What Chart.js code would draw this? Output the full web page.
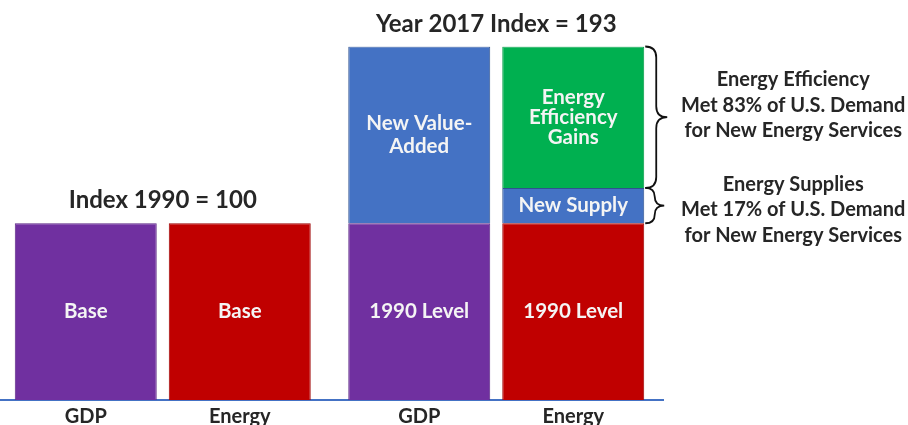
<!DOCTYPE html>
<html lang="en">
<head>
<meta charset="UTF-8">
<title>GDP and Energy, 1990 vs 2017</title>
<script src="https://cdn.jsdelivr.net/npm/chart.js"></script>
<style>
  html, body { margin: 0; padding: 0; background: #fff; overflow: hidden; }
  #wrap { width: 912px; height: 425px; position: relative; margin-left: -4px; }
</style>
</head>
<body>
<div id="wrap"><canvas id="myChart"></canvas></div>
<script>
// groups and the bars inside each group
const years = ['1990', '2017'];
const groupTitles = ['Index 1990 = 100', 'Year 2017 Index = 193'];
const barNames = ['GDP', 'Energy'];

// index values (1990 = 100)
const gdpBase = [100, 100];
const gdpNewValue = [null, 100];
const energyBase = [100, 100];
const energyNewSupply = [null, 20];
const energyEfficiency = [null, 80];

// text written inside the segments
const baseLabels = ['Base', '1990 Level'];
const newValueLabels = [null, ['New Value-', 'Added']];
const newSupplyLabels = [null, 'New Supply'];
const efficiencyLabels = [null, ['Energy', 'Efficiency', 'Gains']];

// notes to the right of the braces
const efficiencyNote = ['Energy Efficiency', 'Met 83% of U.S. Demand', 'for New Energy Services'];
const supplyNote = ['Energy Supplies', 'Met 17% of U.S. Demand', 'for New Energy Services'];

const FONT = 'Lato, "Open Sans", sans-serif';
const DARK = '#262626';

function drawBrace(ctx, x, y1, y2, w) {
    const ym = (y1 + y2) / 2;
    const r = Math.min(w * 0.5, (y2 - y1) / 4);
    const xm = x + w / 2;
    ctx.beginPath();
    ctx.moveTo(x, y1);
    ctx.quadraticCurveTo(xm, y1, xm, y1 + r);
    ctx.lineTo(xm, ym - r);
    ctx.quadraticCurveTo(xm, ym, x + w, ym);
    ctx.quadraticCurveTo(xm, ym, xm, ym + r);
    ctx.lineTo(xm, y2 - r);
    ctx.quadraticCurveTo(xm, y2, x, y2);
    ctx.stroke();
}

const labelsPlugin = {
    id: 'slideLabels',
    afterDatasetsDraw(chart) {
        const ctx = chart.ctx;
        const xScale = chart.scales.x;
        ctx.save();
        ctx.textAlign = 'center';

        // text inside bars
        ctx.fillStyle = '#f4f4f4';
        ctx.textBaseline = 'middle';
        ctx.font = 'bold 20.5px ' + FONT;
        chart.data.datasets.forEach((ds, di) => {
            chart.getDatasetMeta(di).data.forEach((el, i) => {
                const txt = ds.inLabels[i];
                if (!txt || ds.data[i] == null) return;
                const lines = Array.isArray(txt) ? txt : [txt];
                const lh = lines.length > 2 ? 20 : 23;
                const cy = (el.y + el.base) / 2 - (lines.length - 1) * lh / 2;
                lines.forEach((l, k) => ctx.fillText(l, el.x, cy + k * lh));
            });
        });

        // group titles above the tallest bar of each group
        ctx.fillStyle = DARK;
        ctx.textBaseline = 'alphabetic';
        ctx.font = 'bold 24px ' + FONT;
        years.forEach((y, i) => {
            let top = Infinity;
            chart.data.datasets.forEach((ds, di) => {
                const el = chart.getDatasetMeta(di).data[i];
                if (ds.data[i] != null) top = Math.min(top, el.y);
            });
            ctx.fillText(groupTitles[i], xScale.getPixelForValue(i), top - 15);
        });

        // bar names under the axis
        ctx.font = 'bold 20px ' + FONT;
        [0, 1].forEach(di => {
            chart.getDatasetMeta(di).data.forEach(el => {
                ctx.fillText(barNames[di], el.x, chart.chartArea.bottom + 23);
            });
        });

        // braces and notes for the 2017 energy bar
        ctx.strokeStyle = '#111';
        ctx.lineWidth = 1.8;
        const eff = chart.getDatasetMeta(4).data[1];
        const sup = chart.getDatasetMeta(3).data[1];
        const bx = eff.x + eff.width / 2 + 1;
        drawBrace(ctx, bx, eff.y, eff.base, 22);
        drawBrace(ctx, bx, sup.y, sup.base, 19);

        ctx.font = 'bold 20px ' + FONT;
        const noteX = bx + 148;
        const mid1 = (eff.y + eff.base) / 2;
        const mid2 = (sup.y + sup.base) / 2;
        efficiencyNote.forEach((l, k) => ctx.fillText(l, noteX, mid1 - 31 + k * 25.5));
        supplyNote.forEach((l, k) => ctx.fillText(l, noteX, mid2 - 15 + k * 25.5));
        ctx.restore();
    }
};

const ctx = document.getElementById('myChart').getContext('2d');
new Chart(ctx, {
    type: 'bar',
    data: {
        labels: years,
        datasets: [
            { label: 'GDP 1990 level', data: gdpBase, stack: 'GDP', inLabels: baseLabels,
              backgroundColor: '#7030A0', borderColor: '#5b2585' },
            { label: 'Energy 1990 level', data: energyBase, stack: 'Energy', inLabels: baseLabels,
              backgroundColor: '#C00000', borderColor: '#9c0000' },
            { label: 'New value-added', data: gdpNewValue, stack: 'GDP', inLabels: newValueLabels,
              backgroundColor: '#4472C4', borderColor: '#2F528F' },
            { label: 'New supply', data: energyNewSupply, stack: 'Energy', inLabels: newSupplyLabels,
              backgroundColor: '#4472C4', borderColor: '#2F528F' },
            { label: 'Energy efficiency gains', data: energyEfficiency, stack: 'Energy', inLabels: efficiencyLabels,
              backgroundColor: '#00B050', borderColor: '#009a45' }
        ]
    },
    options: {
        responsive: true,
        maintainAspectRatio: false,
        animation: false,
        categoryPercentage: 0.9235,
        barPercentage: 0.922,
        borderWidth: 1,
        layout: { padding: { left: 0, right: 245, top: 46.5, bottom: 17 } },
        plugins: {
            legend: { display: false },
            tooltip: { enabled: false }
        },
        scales: {
            x: {
                stacked: true,
                grid: { display: false },
                ticks: { display: false },
                border: { display: true, color: '#4472C4', width: 2 }
            },
            y: {
                stacked: true,
                display: false,
                min: 0,
                max: 200
            }
        }
    },
    plugins: [labelsPlugin]
});
</script>
</body>
</html>
